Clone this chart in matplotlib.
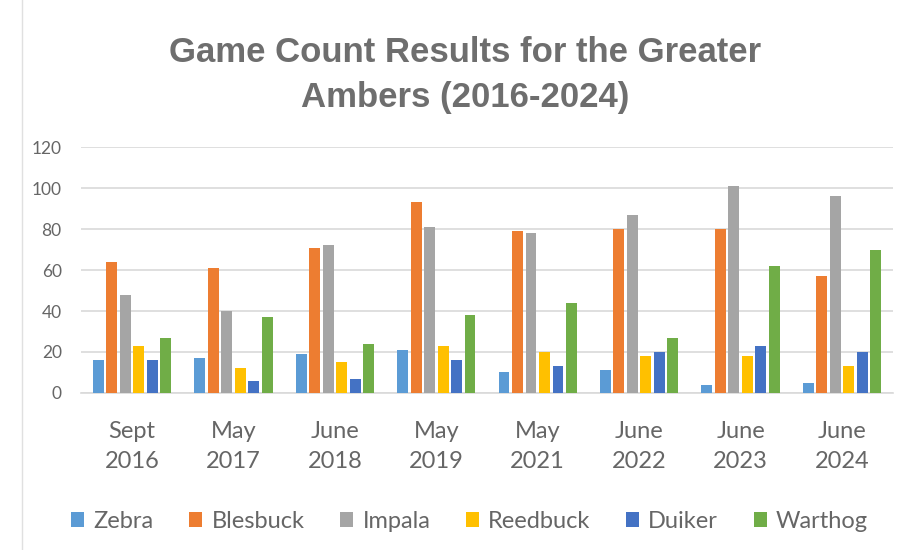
import numpy as np
import matplotlib.pyplot as plt

# Game count data per survey
surveys = ["Sept\n2016", "May\n2017", "June\n2018", "May\n2019",
           "May\n2021", "June\n2022", "June\n2023", "June\n2024"]
zebra = [16, 17, 19, 21, 10, 11, 4, 5]
blesbuck = [64, 61, 71, 93, 79, 80, 80, 57]
impala = [48, 40, 72, 81, 78, 87, 101, 96]
reedbuck = [23, 12, 15, 23, 20, 18, 18, 13]
duiker = [16, 6, 7, 16, 13, 20, 23, 20]
warthog = [27, 37, 24, 38, 44, 27, 62, 70]

species = ["Zebra", "Blesbuck", "Impala", "Reedbuck", "Duiker", "Warthog"]
colors = ["#5B9BD5", "#ED7D31", "#A5A5A5", "#FFC000", "#4472C4", "#70AD47"]
series = [zebra, blesbuck, impala, reedbuck, duiker, warthog]

plt.rcParams['font.family'] = ['Lato', 'DejaVu Sans']

fig = plt.figure(figsize=(9.12, 5.5), dpi=100)
ax = fig.add_axes([0.089, 0.2855, 0.890, 0.447])

x = np.arange(len(surveys))
slot = 0.133
width = 0.108
for i, (name, vals, c) in enumerate(zip(species, series, colors)):
    ax.bar(x + (i - 2.5) * slot, vals, width, color=c, label=name, zorder=3)

ax.set_xlim(-0.5, len(surveys) - 0.5)
ax.set_ylim(0, 120)
ax.set_yticks(range(0, 121, 20))
ax.grid(axis='y', color='#D9D9D9', linewidth=1.2, zorder=0)
for s in ['top', 'right', 'left']:
    ax.spines[s].set_visible(False)
ax.spines['bottom'].set_color('#D9D9D9')
ax.spines['bottom'].set_linewidth(1.2)
ax.set_xticks(x)
ax.set_xticklabels(surveys, fontsize=17, color='#666666', linespacing=1.55)
ax.tick_params(axis='x', length=0, pad=20)
ax.tick_params(axis='y', length=0, labelsize=12.5, labelcolor='#666666', pad=14)

fig.text(0.51, 0.863, "Game Count Results for the Greater\nAmbers (2016-2024)",
         ha='center', va='center', fontsize=25, fontweight='bold', color='#6E6E6E',
         family='Liberation Sans', linespacing=1.45)

fig.legend(loc='center', bbox_to_anchor=(0.515, 0.052), ncol=6, frameon=False,
           fontsize=17, labelcolor='#666666', handlelength=0.55, handleheight=0.55,
           handletextpad=0.4, columnspacing=1.5)

# faint border line at the left edge, as in the screenshot
fig.add_artist(plt.Line2D([0.024, 0.024], [0, 1], color='#E0E0E0', linewidth=1))

fig.savefig("out.png", dpi=100)
